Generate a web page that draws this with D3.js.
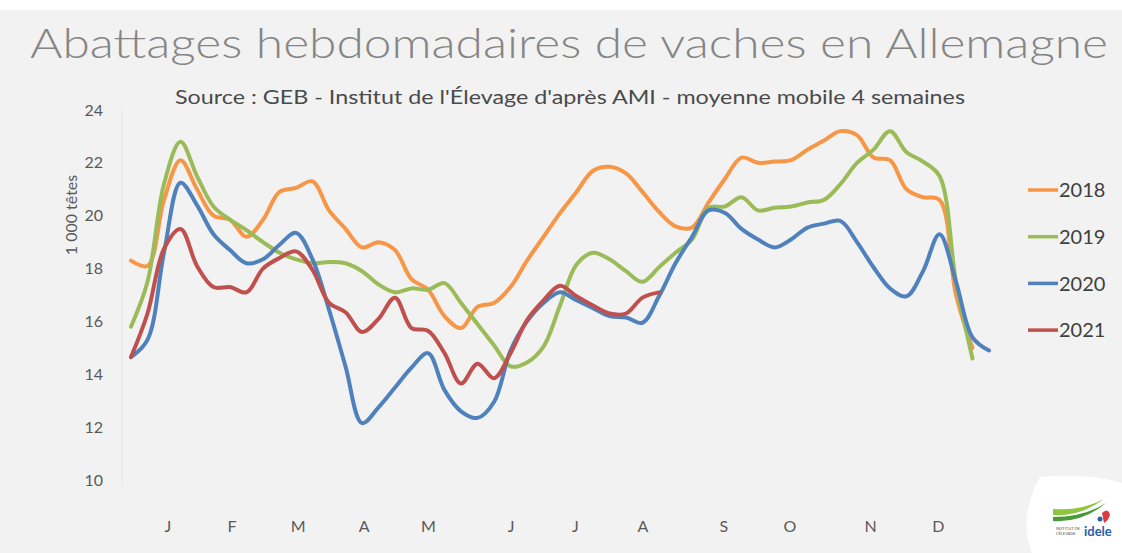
<!DOCTYPE html>
<html>
<head>
    <meta charset="utf-8">
    <title>Abattages hebdomadaires de vaches en Allemagne</title>
    <script src="https://cdnjs.cloudflare.com/ajax/libs/d3/7.8.5/d3.min.js"></script>
    <style>
        body {
            margin: 0;
            background: #f2f2f2;
            overflow: hidden;
        }
        svg text {
            font-family: Lato, "Open Sans", sans-serif;
        }
        .axis path, .axis line {
            display: none;
        }
        .axis text {
            font-size: 16px;
            fill: #595959;
        }
    </style>
</head>
<body>
    <div id="chart"></div>

    <script>
        // Data: weekly cow slaughter (1 000 head), 4-week moving average
        const years = ["2018", "2019", "2020", "2021"];
        const colors = ["#f79646", "#9bbb59", "#4f81bd", "#c0504d"];

        const values2018 = [18.3, 18.1, 20.6, 22.1, 21.0, 20.0, 19.85, 19.2, 19.85, 20.9,
            21.05, 21.3, 20.2, 19.5, 18.8, 19.0, 18.7, 17.6, 17.2, 16.2,
            15.75, 16.55, 16.7, 17.3, 18.3, 19.2, 20.1, 20.9, 21.7, 21.85,
            21.6, 20.9, 20.15, 19.6, 19.55, 20.5, 21.4, 22.2, 22.0, 22.05,
            22.1, 22.5, 22.85, 23.2, 23.05, 22.2, 22.1, 21.0, 20.7, 20.6,
            17.0, 15.0];
        const values2019 = [15.8, 17.5, 21.2, 22.8, 21.5, 20.35, 19.85, 19.45, 19.0, 18.6,
            18.35, 18.2, 18.25, 18.2, 17.9, 17.4, 17.1, 17.25, 17.2, 17.45,
            16.7, 15.9, 15.1, 14.3, 14.45, 15.05, 16.6, 18.15, 18.6, 18.35,
            17.9, 17.5, 18.05, 18.6, 19.1, 20.3, 20.35, 20.7, 20.2, 20.3,
            20.35, 20.5, 20.6, 21.2, 22.0, 22.5, 23.2, 22.4, 22.05, 21.5,
            17.5, 14.6];
        const values2020 = [14.65, 15.3, 18.6, 21.25, 20.4, 19.3, 18.7, 18.2, 18.35, 18.9,
            19.35, 18.35, 16.45, 14.3, 12.15, 12.75, 13.5, 14.25, 14.8, 13.4,
            12.6, 12.35, 12.95, 14.9, 16.0, 16.7, 17.1, 16.8, 16.5, 16.2,
            16.15, 15.95, 16.95, 18.2, 19.2, 20.2, 20.1, 19.5, 19.1, 18.8,
            19.1, 19.55, 19.7, 19.8, 19.0, 18.05, 17.25, 16.95, 17.9, 19.3,
            17.5, 15.4, 14.9];
        const values2021 = [14.65, 16.3, 18.75, 19.5, 18.1, 17.3, 17.3, 17.1, 18.0, 18.4,
            18.65, 17.95, 16.7, 16.35, 15.6, 16.1, 16.9, 15.75, 15.65, 14.8,
            13.65, 14.4, 13.85, 14.8, 16.05, 16.8, 17.35, 16.95, 16.6, 16.3,
            16.3, 16.9, 17.1];
        const series = [values2018, values2019, values2020, values2021];

        const yTicks = [10, 12, 14, 16, 18, 20, 22, 24];
        const months = ["J", "F", "M", "A", "M", "J", "J", "A", "S", "O", "N", "D"];
        const monthWeeks = [3.2, 7.1, 11.1, 15.1, 19, 24, 27.9, 32, 36.9, 40.9, 45.8, 49.9];

        const width = 1122;
        const height = 553;

        const svg = d3.select("#chart")
            .append("svg")
            .attr("width", width)
            .attr("height", height);

        // background + white strip at the top
        svg.append("rect").attr("width", width).attr("height", height).attr("fill", "#f2f2f2");
        svg.append("rect").attr("width", width).attr("height", 10).attr("fill", "#ffffff");

        const x = d3.scaleLinear().domain([1, 53]).range([131, 989]);
        const y = d3.scaleLinear().domain([10, 24]).range([480, 110]);

        // Title
        svg.append("text")
            .attr("x", 30)
            .attr("y", 58)
            .attr("textLength", 1078)
            .attr("lengthAdjust", "spacingAndGlyphs")
            .style("font-size", "42px")
            .style("font-weight", 300)
            .style("fill", "#858585")
            .text("Abattages hebdomadaires de vaches en Allemagne");

        svg.append("text")
            .attr("x", 175)
            .attr("y", 104)
            .attr("textLength", 790)
            .attr("lengthAdjust", "spacingAndGlyphs")
            .style("font-size", "18.5px")
            .style("fill", "#4a4a4a")
            .text("Source : GEB - Institut de l'Élevage d'après AMI - moyenne mobile 4 semaines");

        // faint vertical axis line
        svg.append("line")
            .attr("x1", 122).attr("x2", 122)
            .attr("y1", y(24)).attr("y2", y(10) + 6)
            .attr("stroke", "#e4e4e4")
            .attr("stroke-width", 1);

        // Y axis
        svg.append("g")
            .attr("class", "axis")
            .attr("transform", "translate(107,0)")
            .call(d3.axisLeft(y).tickValues(yTicks).tickSize(0).tickPadding(4));

        svg.append("text")
            .attr("transform", "translate(77,215) rotate(-90)")
            .attr("text-anchor", "middle")
            .style("font-size", "16px")
            .style("fill", "#595959")
            .text("1 000 têtes");

        // X axis (month labels)
        svg.append("g")
            .attr("class", "axis")
            .attr("transform", "translate(0,521)")
            .call(d3.axisBottom(x).tickValues(monthWeeks)
                .tickFormat((d, i) => months[i]).tickSize(0).tickPadding(0));

        // Lines
        const line = d3.line()
            .x((d, i) => x(i + 1))
            .y(d => y(d))
            .curve(d3.curveCatmullRom.alpha(0.5));

        svg.append("g")
            .selectAll("path")
            .data(series)
            .enter()
            .append("path")
            .attr("d", d => line(d))
            .attr("fill", "none")
            .attr("stroke", (d, i) => colors[i])
            .attr("stroke-width", 4)
            .attr("stroke-linejoin", "round")
            .attr("stroke-linecap", "round");

        // Legend
        const legend = svg.append("g")
            .selectAll("g")
            .data(years)
            .enter()
            .append("g")
            .attr("transform", (d, i) => `translate(1028,${190 + i * 46.7})`);

        legend.append("line")
            .attr("x1", 0).attr("x2", 30)
            .attr("stroke", (d, i) => colors[i])
            .attr("stroke-width", 3.5);

        legend.append("text")
            .attr("x", 31)
            .attr("dy", "0.36em")
            .style("font-size", "20px")
            .style("fill", "#404040")
            .text(d => d);

        // idele logo (rough)
        const logo = svg.append("g").attr("transform", "translate(1020,477)");
        logo.append("path")
            .attr("d", "M20,0 Q70,-4 102,6 L102,76 L12,76 Q-2,40 20,0 Z")
            .attr("fill", "#ffffff");
        logo.append("path")
            .attr("d", "M33,38 Q60,40 84,22 Q62,34 33,32 Z")
            .attr("fill", "#8dc63f");
        logo.append("path")
            .attr("d", "M33,44 Q62,46 86,26 Q64,40 33,40 Z")
            .attr("fill", "#4a9a3a");
        logo.append("path")
            .attr("d", "M82,36 Q88,30 90,38 Q88,44 84,46 Z")
            .attr("fill", "#e03a3e");
        logo.append("circle").attr("cx", 80).attr("cy", 42).attr("r", 2.5).attr("fill", "#2a5ea8");
        logo.append("text")
            .attr("x", 36).attr("y", 53)
            .style("font-size", "4px")
            .style("fill", "#555")
            .text("INSTITUT DE");
        logo.append("text")
            .attr("x", 36).attr("y", 58)
            .style("font-size", "4px")
            .style("fill", "#555")
            .text("L'ÉLEVAGE");
        logo.append("text")
            .attr("x", 64).attr("y", 59)
            .style("font-size", "13px")
            .style("font-weight", 700)
            .style("fill", "#2a5ea8")
            .text("idele");
    </script>
</body>
</html>
